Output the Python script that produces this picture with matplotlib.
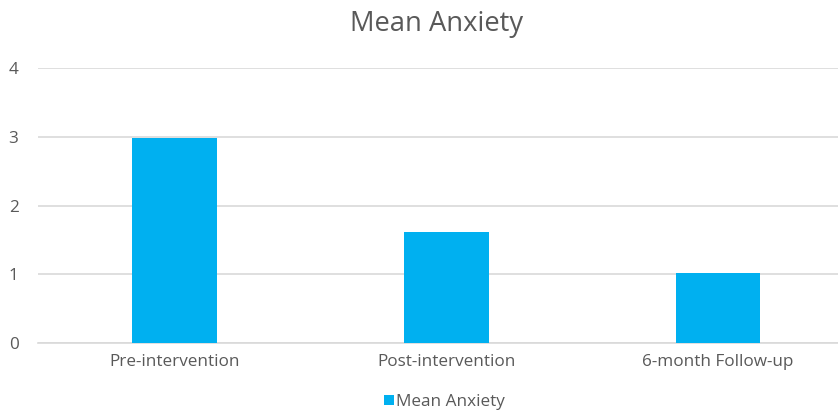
import matplotlib.pyplot as plt
from matplotlib.patches import Patch

# Mean anxiety score at each measurement point
phases = ["Pre-intervention", "Post-intervention", "6-month Follow-up"]
mean_anxiety = [2.98, 1.62, 1.02]

bar_color = "#00B0F0"
text_color = "#595959"
grid_color = "#D9D9D9"

plt.rcParams['font.family'] = ['Open Sans', 'DejaVu Sans']

fig = plt.figure(figsize=(8.38, 4.12), dpi=100)
ax = fig.add_axes([38 / 838, 0.1667, 800 / 838, 0.669])

x = list(range(len(phases)))
ax.bar(x, mean_anxiety, width=0.311, color=bar_color, zorder=3)

ax.set_xlim(-0.502, 2.441)
ax.set_ylim(0, 4)
ax.set_yticks([0, 1, 2, 3, 4])
ax.set_xticks(x)
ax.set_xticklabels(phases)

ax.yaxis.grid(True, color=grid_color, linewidth=1.2, zorder=0)
for side in ["top", "right", "left"]:
    ax.spines[side].set_visible(False)
ax.spines["bottom"].set_color(grid_color)
ax.spines["bottom"].set_linewidth(1.2)
ax.tick_params(axis="both", length=0, colors=text_color, labelsize=12.3)
ax.tick_params(axis="y", pad=14)
ax.tick_params(axis="x", pad=8)

fig.suptitle("Mean Anxiety", x=437 / 838, y=0.975, fontsize=19.7, color=text_color)

handles = [Patch(facecolor=bar_color, label="Mean Anxiety")]
fig.legend(handles=handles, loc="center", bbox_to_anchor=(444 / 838, 10 / 412),
           frameon=False, handlelength=0.6, handleheight=0.6, handletextpad=0.1,
           fontsize=12.3, labelcolor=text_color)

fig.savefig("out.png", dpi=100)
